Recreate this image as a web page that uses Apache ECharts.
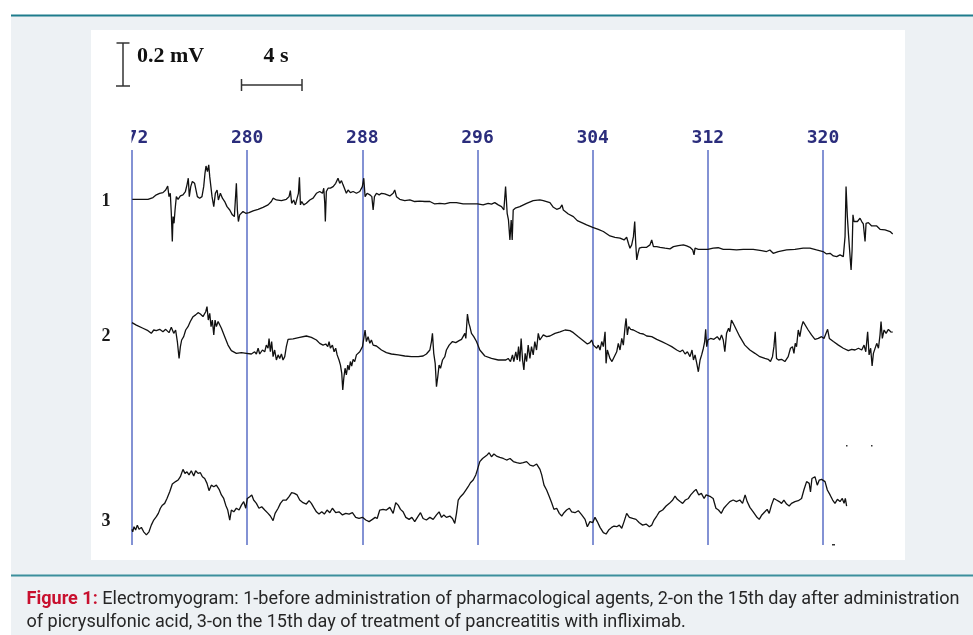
<!DOCTYPE html>
<html><head><meta charset="utf-8">
<script src="https://cdn.jsdelivr.net/npm/echarts@6/dist/echarts.min.js"></script>
<style>html,body{margin:0;padding:0;background:#fff}#c{width:973px;height:635px}</style>
</head><body><div id="c"></div>
<script>
// ---------- DATA (time in s, amplitude in µV relative to each sweep's baseline) ----------
const traceNames = ['1', '2', '3'];
const timeMin = 272, timeMax = 325, timeStep = 8;
const scaleBarLabels = ['0.2 mV', '4 s'];
const captionLead = 'Figure 1: ';
const captionLine1 = 'Electromyogram: 1-before administration of pharmacological agents, 2-on the 15th day after administration';
const captionLine2 = 'of picrysulfonic acid, 3-on the 15th day of treatment of pancreatitis with infliximab.';

const trace1 = [[272.02,0],[273.11,0],[273.46,8],[273.69,20],[273.92,27],[274.15,30],[274.34,42],[274.48,60],[274.57,12],[274.66,27],[274.73,-63],[274.80,-190],[274.85,-78],[274.92,-108],[274.99,-48],[275.08,12],[275.20,0],[275.36,15],[275.54,20],[275.71,35],[275.82,65],[275.91,95],[275.98,12],[276.08,57],[276.19,80],[276.35,72],[276.47,80],[276.54,12],[276.70,5],[276.86,12],[276.98,57],[277.07,117],[277.14,150],[277.24,125],[277.33,155],[277.40,102],[277.47,95],[277.56,12],[277.68,-33],[277.79,27],[277.91,42],[278.00,-3],[278.14,27],[278.28,5],[278.44,-10],[278.60,-33],[278.79,-48],[278.97,-70],[279.11,-78],[279.25,72],[279.32,-48],[279.39,-100],[279.48,-70],[279.60,-78],[279.71,-55],[279.90,-63],
[280.13,-60],[280.41,-52],[280.76,-45],[281.10,-36],[281.45,-25],[281.68,-10],[281.80,5],[282.03,-3],[282.38,-6],[282.72,0],[282.91,12],[283.00,39],[283.09,-18],[283.23,-3],[283.35,-25],[283.47,5],[283.56,27],[283.63,99],[283.70,-25],[283.79,-10],[283.93,-25],[284.11,-18],[284.35,-3],[284.58,5],[284.81,27],[285.04,35],[285.23,27],[285.32,50],[285.39,-18],[285.43,-100],[285.50,35],[285.62,50],[285.78,50],[285.97,57],[286.15,72],[286.31,95],[286.43,72],[286.55,84],[286.66,65],[286.78,57],[286.89,27],[287.01,42],[287.17,30],[287.36,35],[287.59,27],[287.82,35],[288.00,57],
[288.10,95],[288.19,12],[288.33,27],[288.52,20],[288.66,12],[288.75,-48],[288.84,12],[288.98,27],[289.17,20],[289.33,27],[289.56,24],[289.91,15],[290.14,27],[290.25,42],[290.37,12],[290.60,0],[290.95,-6],[291.30,-3],[291.64,-10],[291.99,-8],[292.34,-10],[292.69,-10],[293.03,-21],[293.38,-18],[293.73,-21],[294.08,-15],[294.54,-15],[295.00,-21],[295.47,-21],
[296.00,-21],[296.39,-25],[296.74,-18],[296.97,-22],[297.20,-15],[297.44,-25],[297.67,-33],[297.83,-48],[297.95,57],[298.06,-63],[298.15,-93],[298.25,-183],[298.34,-93],[298.41,-183],[298.48,-48],[298.62,-40],[298.94,-33],[299.41,-18],[299.87,-6],[300.33,-3],[300.57,-6],[301.03,-15],[301.27,-36],[301.50,-45],[301.73,-40],[301.87,-25],[301.96,-48],[302.31,-66],[302.66,-78],[302.93,-96],[303.24,-105],[303.58,-115],[304.00,-126],
[304.39,-135],[304.74,-145],[305.20,-165],[305.55,-171],[305.90,-175],[306.18,-183],[306.36,-171],[306.48,-198],[306.59,-220],[306.71,-205],[306.83,-168],[306.92,-100],[306.99,-198],[307.06,-273],[307.15,-243],[307.24,-220],[307.41,-216],[307.75,-216],[307.98,-205],[308.10,-183],[308.22,-213],[308.45,-213],[308.68,-216],[309.03,-220],[309.37,-223],[309.61,-213],[309.95,-208],[310.30,-205],[310.53,-210],[310.76,-216],[310.95,-228],[311.04,-250],[311.11,-220],[311.34,-225],[311.69,-225],[312.00,-225],
[312.37,-220],[312.72,-218],[313.07,-225],[313.53,-225],[313.99,-228],[314.46,-225],[315.15,-225],[315.73,-231],[316.08,-235],[316.31,-228],[316.54,-243],[316.89,-235],[317.47,-228],[318.05,-225],[318.62,-220],[319.09,-220],[319.55,-228],[320.00,-235],
[320.25,-246],[320.49,-243],[320.72,-255],[320.95,-258],[321.18,-250],[321.41,-258],[321.53,-168],[321.60,57],[321.69,-78],[321.78,-168],[321.88,-258],[321.95,-318],[322.02,-228],[322.08,-70],[322.15,-100],[322.25,-93],[322.39,-100],[322.57,-85],[322.69,-100],[322.80,-111],[322.92,-190],[322.99,-108],[323.15,-105],[323.38,-120],[323.73,-120],[323.96,-135],[324.31,-138],[324.66,-145],[324.84,-156]];

const trace2 = [[272.00,33],[272.30,22],[272.76,8],[273.11,-3],[273.34,-15],[273.51,0],[273.69,-3],[273.92,3],[274.15,-8],[274.34,3],[274.57,-12],[274.73,12],[274.90,-15],[275.03,0],[275.15,-52],[275.27,-128],[275.36,-75],[275.45,-45],[275.59,-30],[275.73,0],[275.89,15],[276.05,38],[276.24,60],[276.42,68],[276.59,78],[276.75,72],[276.93,60],[277.12,82],[277.21,105],[277.30,45],[277.40,75],[277.49,15],[277.58,45],[277.68,-22],[277.77,45],[277.86,15],[277.98,38],[278.21,8],[278.44,-30],[278.67,-68],[278.90,-93],[279.25,-105],[279.60,-102],[279.95,-105],
[280.29,-108],[280.52,-98],[280.64,-108],[280.76,-82],[280.87,-108],[281.06,-90],[281.22,-98],[281.33,-68],[281.45,-82],[281.52,-38],[281.61,-98],[281.70,-52],[281.80,-120],[281.91,-90],[282.03,-135],[282.15,-112],[282.26,-128],[282.38,-108],[282.49,-135],[282.61,-120],[282.72,-75],[282.84,-42],[283.19,-40],[283.65,-33],[284.11,-27],[284.46,-33],[284.81,-45],[285.04,-60],[285.27,-68],[285.46,-63],[285.60,-75],[285.69,-52],[285.78,-82],[285.92,-68],[286.04,-98],[286.15,-82],[286.25,-112],[286.38,-135],[286.48,-158],[286.57,-195],[286.64,-270],[286.71,-218],[286.80,-172],[286.89,-202],[286.99,-158],[287.08,-180],[287.17,-142],[287.26,-162],[287.36,-132],[287.47,-142],[287.59,-112],[287.70,-120],[287.82,-98],[287.94,-90],
[288.01,-75],[288.10,-38],[288.19,0],[288.28,-52],[288.40,-30],[288.52,-60],[288.63,-45],[288.75,-68],[288.98,-72],[289.33,-90],[289.67,-102],[290.02,-108],[290.49,-112],[290.95,-117],[291.41,-120],[291.88,-120],[292.22,-117],[292.45,-108],[292.69,-90],[292.80,-52],[292.87,-15],[292.96,-105],[293.06,-150],[293.15,-255],[293.24,-210],[293.33,-158],[293.43,-172],[293.57,-135],[293.73,-120],[293.84,-90],[294.03,-68],[294.26,-52],[294.49,-57],[294.72,-48],[294.89,-42],[295.00,-48],[295.12,-15],[295.19,-38],[295.30,72],[295.40,30],[295.47,15],[295.58,-15],[295.74,-30],[295.93,-52],
[296.16,-90],[296.51,-117],[296.97,-128],[297.44,-135],[297.97,-135],[298.13,-128],[298.29,-142],[298.43,-112],[298.52,-142],[298.66,-98],[298.76,-135],[298.85,-75],[298.94,-142],[299.03,-38],[299.13,-135],[299.22,-180],[299.31,-105],[299.41,-142],[299.52,-68],[299.64,-128],[299.75,-75],[299.87,-112],[299.98,-52],[300.10,-90],[300.22,-15],[300.33,-45],[300.57,-22],[300.80,-30],[301.03,-27],[301.38,-15],[301.73,-8],[302.08,0],[302.42,-3],[302.66,-12],[303.00,-30],[303.35,-48],[303.63,-63],[303.81,-57],[303.93,-45],[304.05,-68],
[304.16,-60],[304.28,-82],[304.39,-68],[304.51,-90],[304.63,-52],[304.74,-75],[304.86,-8],[304.93,-150],[305.02,-90],[305.11,-98],[305.20,-128],[305.34,-142],[305.44,-128],[305.55,-135],[305.67,-98],[305.78,-60],[305.90,-90],[306.02,-38],[306.13,-68],[306.25,15],[306.32,52],[306.41,-22],[306.50,15],[306.64,3],[306.83,0],[307.06,-8],[307.29,-15],[307.52,-18],[307.75,-27],[308.10,-30],[308.45,-42],[308.80,-52],[309.14,-63],[309.49,-75],[309.84,-90],[310.07,-98],[310.25,-90],[310.42,-108],[310.58,-98],[310.76,-120],[310.90,-90],[311.00,-135],[311.11,-112],[311.23,-150],[311.34,-188],[311.46,-135],[311.57,-112],[311.69,-82],[311.78,-52],[311.85,3],[311.92,-75],[312.00,-45],
[312.19,-38],[312.42,-42],[312.65,-30],[312.83,-45],[312.95,-22],[313.07,-45],[313.18,-98],[313.30,-15],[313.44,8],[313.53,-8],[313.64,45],[313.76,30],[313.99,0],[314.22,-30],[314.57,-68],[314.92,-90],[315.27,-105],[315.61,-120],[315.96,-128],[316.19,-132],[316.35,-142],[316.49,-120],[316.59,-75],[316.68,-8],[316.77,-128],[316.91,-135],[317.12,-132],[317.35,-142],[317.58,-120],[317.74,-82],[317.88,-75],[317.98,-105],[318.07,-60],[318.16,-75],[318.28,0],[318.39,-30],[318.51,15],[318.62,38],[318.74,30],[318.97,0],[319.20,-22],[319.44,-42],[319.67,-38],[319.90,-30],
[320.07,-38],[320.21,-15],[320.32,3],[320.44,-38],[320.72,-52],[321.07,-68],[321.41,-82],[321.76,-93],[321.99,-87],[322.22,-90],[322.46,-82],[322.69,-90],[322.85,-68],[322.97,-98],[323.10,-8],[323.20,-112],[323.31,-82],[323.41,-162],[323.50,-105],[323.61,-112],[323.73,-60],[323.85,-82],[323.96,-22],[324.03,38],[324.12,-38],[324.24,0],[324.38,-15],[324.54,3],[324.70,-8],[324.84,-10]];

const trace3 = [[272.00,-147],[272.05,-158],[272.14,-135],[272.25,-150],[272.37,-128],[272.49,-147],[272.65,-138],[272.81,-158],[273.00,-172],[273.18,-158],[273.34,-128],[273.51,-105],[273.69,-90],[273.83,-75],[273.97,-52],[274.11,-38],[274.27,-30],[274.43,-8],[274.62,22],[274.80,57],[275.03,68],[275.20,75],[275.36,90],[275.54,123],[275.68,105],[275.82,112],[275.96,98],[276.12,117],[276.29,93],[276.42,117],[276.59,105],[276.75,108],[276.89,90],[277.05,82],[277.21,60],[277.35,27],[277.51,52],[277.68,45],[277.86,52],[278.05,33],[278.21,8],[278.37,-8],[278.51,-38],[278.65,-60],[278.79,-105],[278.90,-60],[279.07,-68],[279.25,-52],[279.44,-60],[279.60,-38],[279.76,-22],[279.90,-52],
[280.01,-8],[280.18,0],[280.32,8],[280.45,-15],[280.64,-30],[280.82,-52],[281.01,-45],[281.22,-60],[281.45,-75],[281.61,-87],[281.80,-108],[281.94,-75],[282.15,-52],[282.31,-30],[282.49,-15],[282.72,-15],[282.91,0],[283.09,18],[283.28,15],[283.47,8],[283.65,-15],[283.88,-27],[284.11,-33],[284.30,-18],[284.46,-30],[284.62,-48],[284.81,-68],[284.99,-78],[285.18,-68],[285.36,-78],[285.55,-60],[285.74,-72],[285.92,-52],[286.15,-72],[286.38,-68],[286.62,-82],[286.85,-75],[287.08,-78],[287.31,-72],[287.54,-93],[287.77,-98],
[288.01,-93],[288.24,-105],[288.47,-112],[288.70,-102],[288.89,-93],[289.03,-98],[289.21,-60],[289.44,-57],[289.67,-60],[289.91,-48],[290.14,-75],[290.32,-27],[290.49,-38],[290.65,-57],[290.83,-68],[291.02,-93],[291.25,-102],[291.44,-93],[291.64,-112],[291.88,-87],[292.04,-72],[292.22,-98],[292.45,-105],[292.69,-93],[292.92,-102],[293.15,-82],[293.33,-68],[293.50,-93],[293.66,-82],[293.84,-93],[294.08,-87],[294.26,-98],[294.42,-120],[294.54,-75],[294.66,-15],[294.82,0],[295.00,12],[295.19,30],[295.35,45],[295.51,63],[295.70,75],[295.88,98],
[296.00,123],[296.16,158],[296.35,172],[296.51,180],[296.67,188],[296.81,198],[296.97,180],[297.14,192],[297.32,183],[297.55,177],[297.79,172],[298.02,165],[298.26,172],[298.49,158],[298.72,153],[298.95,150],[299.18,153],[299.41,158],[299.65,142],[299.88,138],[300.11,147],[300.34,123],[300.46,98],[300.62,52],[300.80,30],[300.99,0],[301.15,-27],[301.31,-57],[301.50,-52],[301.68,-75],[301.85,-87],[302.01,-72],[302.19,-60],[302.38,-52],[302.54,-68],[302.77,-72],[303.00,-63],[303.24,-82],[303.47,-102],[303.63,-135],[303.81,-112],[304.00,-117],
[304.16,-93],[304.32,-112],[304.51,-138],[304.74,-162],[304.93,-168],[305.11,-150],[305.32,-138],[305.48,-132],[305.67,-135],[305.85,-128],[306.02,-142],[306.18,-112],[306.36,-75],[306.55,-93],[306.78,-98],[307.01,-102],[307.24,-117],[307.47,-128],[307.71,-123],[307.94,-135],[308.10,-128],[308.26,-105],[308.45,-87],[308.63,-68],[308.86,-60],[309.10,-42],[309.33,-30],[309.56,-15],[309.72,3],[309.88,-12],[310.07,-22],[310.25,-30],[310.44,-15],[310.65,-8],[310.81,8],[311.00,22],[311.18,33],[311.37,8],[311.55,15],[311.74,-8],[311.88,8],[312.00,15],
[312.19,0],[312.37,-8],[312.56,-52],[312.74,-60],[312.93,-75],[313.11,-52],[313.30,-38],[313.53,-22],[313.76,-15],[313.99,-22],[314.22,-15],[314.41,-30],[314.59,8],[314.73,-22],[314.92,-48],[315.15,-68],[315.38,-90],[315.57,-102],[315.75,-82],[315.96,-68],[316.12,-57],[316.26,-75],[316.42,-38],[316.59,-8],[316.77,-15],[316.96,-22],[317.12,-30],[317.28,-15],[317.47,-33],[317.65,-42],[317.81,-30],[318.05,-22],[318.28,-18],[318.51,-8],[318.67,30],[318.86,68],[319.04,60],[319.13,22],[319.23,82],[319.44,90],[319.60,52],[319.74,75],[319.90,78],
[320.14,68],[320.30,30],[320.49,8],[320.67,-15],[320.83,-30],[321.00,-12],[321.18,-22],[321.34,-8],[321.46,-30],[321.55,-8],[321.64,-42]];

const traces = [trace1, trace2, trace3];

// ---------- LAYOUT / STYLE ----------
const W = 973, H = 635;
const gridLeft = 132, gridWidth = 763, gridTop = 150, gridHeight = 395;
const baseY = [199.3, 330, 496.7];       // screen baseline of each sweep
const uvPerPx = 4.5;                     // amplitude scale
const labelY = [201, 336.5, 521.5];
const lineBlue = '#5a6ec6';
const tickNavy = '#2b2d7c';

const chart = echarts.init(document.getElementById('c'), null, {renderer: 'canvas', width: W, height: H});

const yAxes = baseY.map(b => ({
  type: 'value', gridIndex: 0, show: false,
  min: -(gridTop + gridHeight - b) * uvPerPx,
  max: (b - gridTop) * uvPerPx,
  splitLine: {show: false}
}));

// caption width fitting (condensed look)
const capSize = 18.5;
const mctx = document.createElement('canvas').getContext('2d');
mctx.font = 'bold ' + capSize + 'px Roboto';
const wLead = mctx.measureText(captionLead).width;
mctx.font = capSize + 'px Roboto';
const wRest = mctx.measureText(captionLine1).width;
const capScale = 933 / (wLead + wRest);

const serifBold = 'bold 22px "Liberation Serif", "Times New Roman", serif';

const graphics = [
  {type: 'rect', z: -30, shape: {x: 11, y: 16, width: W - 11, height: H - 16}, style: {fill: '#edf1f4'}},
  {type: 'rect', z: -20, shape: {x: 91, y: 30, width: 814, height: 530}, style: {fill: '#ffffff'}},
  {type: 'line', z: -10, shape: {x1: 11, y1: 15.5, x2: W, y2: 15.5}, style: {stroke: '#1e7c8c', lineWidth: 2}},
  {type: 'line', z: -10, shape: {x1: 11, y1: 575.5, x2: W, y2: 575.5}, style: {stroke: '#3b8f9c', lineWidth: 2}},
  // mask that cuts the first tick label as in the original
  {type: 'rect', z: 100, shape: {x: 91, y: 120, width: 40.5, height: 28}, style: {fill: '#ffffff'}},
  // amplitude scale bar
  {type: 'line', z: 10, shape: {x1: 123, y1: 43, x2: 123, y2: 86}, style: {stroke: '#333', lineWidth: 1.5}},
  {type: 'line', z: 10, shape: {x1: 116.5, y1: 43, x2: 129.5, y2: 43}, style: {stroke: '#333', lineWidth: 1.5}},
  {type: 'line', z: 10, shape: {x1: 116, y1: 86, x2: 130, y2: 86}, style: {stroke: '#333', lineWidth: 1.5}},
  {type: 'text', z: 10, x: 137, y: 56, style: {text: scaleBarLabels[0], font: serifBold, fill: '#111', verticalAlign: 'middle'}},
  // time scale bar
  {type: 'line', z: 10, shape: {x1: 241.5, y1: 85, x2: 302, y2: 85}, style: {stroke: '#333', lineWidth: 1.5}},
  {type: 'line', z: 10, shape: {x1: 241.5, y1: 79, x2: 241.5, y2: 91}, style: {stroke: '#333', lineWidth: 1.5}},
  {type: 'line', z: 10, shape: {x1: 302, y1: 79, x2: 302, y2: 91}, style: {stroke: '#333', lineWidth: 1.5}},
  {type: 'text', z: 10, x: 276, y: 56, style: {text: scaleBarLabels[1], font: serifBold, fill: '#111', align: 'center', verticalAlign: 'middle'}},
  // small artefacts
  {type: 'rect', z: 10, shape: {x: 846, y: 445, width: 1.5, height: 1.5}, style: {fill: '#333'}},
  {type: 'rect', z: 10, shape: {x: 871, y: 445, width: 1.5, height: 1.5}, style: {fill: '#333'}},
  {type: 'rect', z: 10, shape: {x: 832, y: 544, width: 3, height: 1.5}, style: {fill: '#333'}},
  // caption
  {type: 'text', z: 10, x: 26.5, y: 599, scaleX: capScale,
    style: {text: '{r|' + captionLead + '}{n|' + captionLine1 + '}', verticalAlign: 'middle',
      rich: {r: {fill: '#c8102e', fontWeight: 'bold', fontSize: capSize, fontFamily: 'Roboto'},
             n: {fill: '#262626', fontSize: capSize, fontFamily: 'Roboto'}}}},
  {type: 'text', z: 10, x: 26.5, y: 622, scaleX: capScale,
    style: {text: captionLine2, fill: '#262626', font: capSize + 'px Roboto', verticalAlign: 'middle'}}
];
traceNames.forEach((n, i) => graphics.push({
  type: 'text', z: 10, x: 106, y: labelY[i],
  style: {text: n, font: 'bold 18px "Liberation Serif", serif', fill: '#1a1a1a', align: 'center', verticalAlign: 'middle'}
}));

chart.setOption({
  animation: false,
  backgroundColor: '#ffffff',
  grid: {left: gridLeft, top: gridTop, width: gridWidth, height: gridHeight, containLabel: false},
  xAxis: {
    type: 'value', position: 'top', min: timeMin, max: timeMax, interval: timeStep,
    axisLine: {show: false}, axisTick: {show: false},
    axisLabel: {margin: 3, color: tickNavy, fontFamily: '"DejaVu Sans Mono", monospace', fontWeight: 'bold', fontSize: 18, showMaxLabel: false, showMinLabel: true},
    splitLine: {show: true, showMinLine: true, showMaxLine: false, lineStyle: {color: lineBlue, width: 1.5}}
  },
  yAxis: yAxes,
  series: traces.map((d, i) => ({
    type: 'line', name: traceNames[i], xAxisIndex: 0, yAxisIndex: i, data: d,
    showSymbol: false, symbol: 'none', z: 3,
    lineStyle: {color: '#111', width: 1.3}
  })),
  graphic: {elements: graphics}
});
</script>
</body></html>
